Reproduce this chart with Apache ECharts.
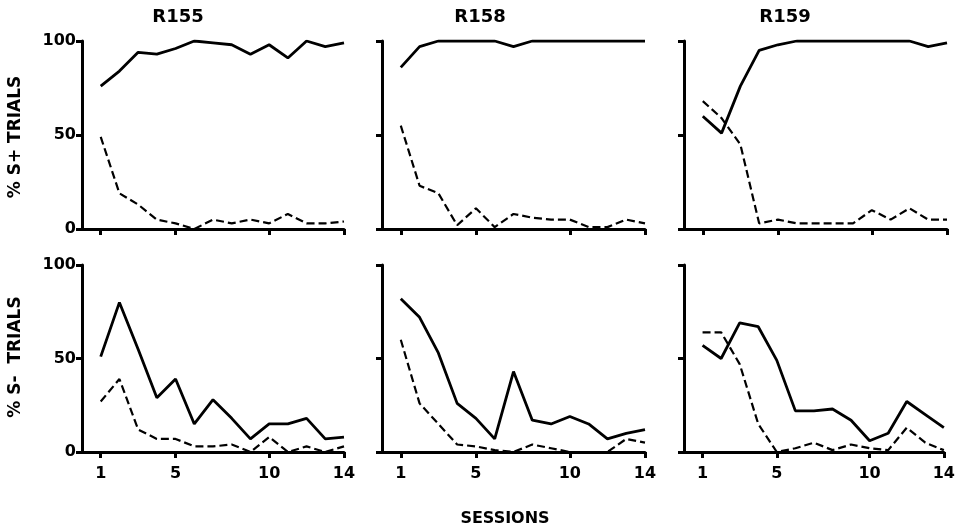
<!DOCTYPE html>
<html>
<head>
<meta charset="UTF-8">
<title>R155 R158 R159</title>
<style>
  html, body { margin: 0; padding: 0; background: #fff; }
  #main { width: 958px; height: 530px; }
</style>
</head>
<body>
<div id="main"></div>
<script src="https://cdn.jsdelivr.net/npm/echarts@6/dist/echarts.min.js"></script>
<script>
// sessions 1..14
var sessions = [1, 2, 3, 4, 5, 6, 7, 8, 9, 10, 11, 12, 13, 14];
var tickSessions = [1, 5, 10, 14];
var yTicks = [0, 50, 100];
var subjects = ['R155', 'R158', 'R159'];

// % S+ trials (top row): solid and dashed
var r155PlusSolid  = [76, 84, 94, 93, 96, 100, 99, 98, 93, 98, 91, 100, 97, 99];
var r155PlusDashed = [49, 19, 13, 5, 3, 0, 5, 3, 5, 3, 8, 3, 3, 4];
var r158PlusSolid  = [86, 97, 100, 100, 100, 100, 97, 100, 100, 100, 100, 100, 100, 100];
var r158PlusDashed = [55, 23, 19, 2, 11, 1, 8, 6, 5, 5, 1, 1, 5, 3];
var r159PlusSolid  = [60, 51, 76, 95, 98, 100, 100, 100, 100, 100, 100, 100, 97, 99];
var r159PlusDashed = [68, 59, 45, 3, 5, 3, 3, 3, 3, 10, 5, 11, 5, 5];

// % S- trials (bottom row)
var r155MinusSolid  = [51, 80, 55, 29, 39, 15, 28, 18, 7, 15, 15, 18, 7, 8];
var r155MinusDashed = [27, 39, 12, 7, 7, 3, 3, 4, 0, 8, 0, 3, 0, 3];
var r158MinusSolid  = [82, 72, 53, 26, 18, 7, 43, 17, 15, 19, 15, 7, 10, 12];
var r158MinusDashed = [60, 26, 15, 4, 3, 1, 0, 4, 2, 0, 0, 0, 7, 5];
var r159MinusSolid  = [57, 50, 69, 67, 49, 22, 22, 23, 17, 6, 10, 27, 20, 13];
var r159MinusDashed = [64, 64, 47, 15, 0, 2, 5, 1, 4, 2, 1, 13, 5, 1];

var rows = [
  [[r155PlusSolid, r155PlusDashed], [r158PlusSolid, r158PlusDashed], [r159PlusSolid, r159PlusDashed]],
  [[r155MinusSolid, r155MinusDashed], [r158MinusSolid, r158MinusDashed], [r159MinusSolid, r159MinusDashed]]
];
var rowNames = ['% S+ TRIALS', '% S-  TRIALS'];

var font = '"DejaVu Sans", sans-serif';
var lefts = [82, 382, 684];
var widths = [262, 263, 263];
var tops = [41, 265];
var heights = [188, 187];

function pairs(vals) {
  return sessions.map(function (s, i) { return [s, vals[i]]; });
}

var grids = [], xAxes = [], yAxes = [], series = [];
for (var r = 0; r < 2; r++) {
  for (var c = 0; c < 3; c++) {
    var idx = grids.length;
    grids.push({ left: lefts[c], top: tops[r], width: widths[c], height: heights[r] });
    xAxes.push({
      type: 'value', gridIndex: idx, min: 0, max: 14,
      axisLine: { show: true, onZero: false, lineStyle: { color: '#000', width: 3 } },
      axisTick: { show: true, customValues: tickSessions, length: 6, lineStyle: { color: '#000', width: 3 } },
      axisLabel: {
        show: r === 1, customValues: tickSessions, margin: 14,
        color: '#000', fontFamily: font, fontWeight: 'bold', fontSize: 16
      },
      splitLine: { show: false }
    });
    yAxes.push({
      type: 'value', gridIndex: idx, min: 0, max: 100, interval: 50,
      axisLine: { show: true, lineStyle: { color: '#000', width: 3 } },
      axisTick: { show: true, length: 6, lineStyle: { color: '#000', width: 3 } },
      axisLabel: {
        show: c === 0, margin: 6,
        color: '#000', fontFamily: font, fontWeight: 'bold', fontSize: 16
      },
      splitLine: { show: false }
    });
    var d = rows[r][c];
    series.push({
      type: 'line', xAxisIndex: idx, yAxisIndex: idx, data: pairs(d[0]),
      showSymbol: false, silent: true,
      lineStyle: { color: '#000', width: 2.8 }
    });
    series.push({
      type: 'line', xAxisIndex: idx, yAxisIndex: idx, data: pairs(d[1]),
      showSymbol: false, silent: true,
      lineStyle: { color: '#000', width: 2.2, type: [8, 4] }
    });
  }
}

var titleX = [178, 480, 785];
var graphics = subjects.map(function (s, i) {
  return {
    type: 'text', x: titleX[i], y: 17,
    style: { text: s, fill: '#000', font: 'bold 18px ' + font, textAlign: 'center', textVerticalAlign: 'middle' }
  };
});
graphics.push({
  type: 'text', x: 505, y: 519,
  style: { text: 'SESSIONS', fill: '#000', font: 'bold 16px ' + font, textAlign: 'center', textVerticalAlign: 'middle' }
});
[137, 357].forEach(function (y, i) {
  graphics.push({
    type: 'text', x: 16, y: y, rotation: Math.PI / 2,
    style: { text: rowNames[i], fill: '#000', font: 'bold 17px ' + font, textAlign: 'center', textVerticalAlign: 'middle' }
  });
});

var chart = echarts.init(document.getElementById('main'));
chart.setOption({
  animation: false,
  backgroundColor: '#fff',
  grid: grids,
  xAxis: xAxes,
  yAxis: yAxes,
  series: series,
  graphic: graphics
});
</script>
</body>
</html>
